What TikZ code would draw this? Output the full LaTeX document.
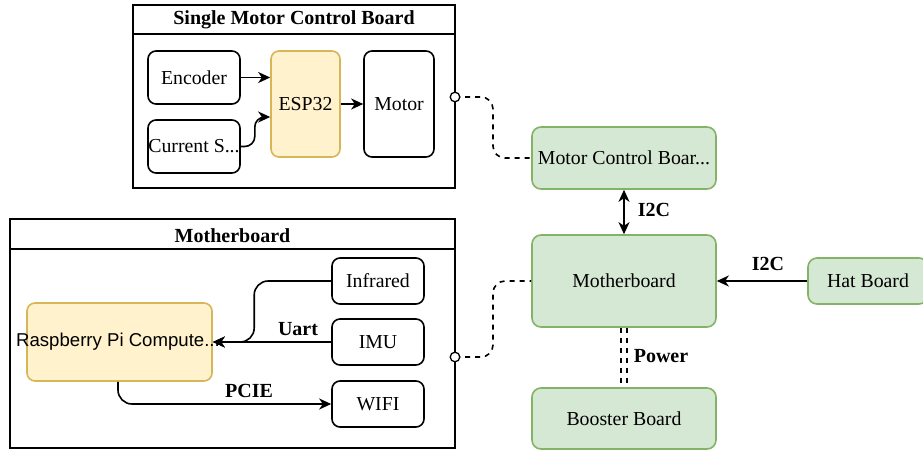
\documentclass[tikz,border=0pt]{standalone}
\usepackage{fontspec}
\setmainfont{Liberation Serif}
\newfontfamily\sansf{Liberation Sans}
\usetikzlibrary{arrows.meta,calc}
\definecolor{gfill}{HTML}{D5E8D4}
\definecolor{gdraw}{HTML}{82B366}
\definecolor{yfill}{HTML}{FFF2CC}
\definecolor{ydraw}{HTML}{D6B656}
\begin{document}
\begin{tikzpicture}[x=0.5pt,y=-0.5pt, line width=0.8pt,
 font=\fontsize{9.9}{11}\selectfont,
 box/.style={draw, rounded corners=4pt, align=center, inner sep=0pt},
 gbox/.style={box, fill=gfill, draw=gdraw, rounded corners=4.5pt},
 ybox/.style={box, fill=yfill, draw=ydraw},
 cont/.style={draw, inner sep=0pt},
 arr/.style={-{Stealth[length=6pt,width=5.5pt,inset=1.8pt]}},
 darr/.style={{Stealth[length=6pt,width=5.5pt,inset=1.8pt]}-{Stealth[length=6pt,width=5.5pt,inset=1.8pt]}},
 dsh/.style={dash pattern=on 2.5pt off 2.5pt},
 port/.style={circle, draw, fill=white, inner sep=0pt, minimum size=4.8pt, line width=0.65pt},
 lbl/.style={font=\fontsize{10}{11}\selectfont\bfseries, inner sep=1pt}
]
\useasboundingbox (0,0) rectangle (923,451);
\clip (0,0) rectangle (923,451);

% Single Motor Control Board container
\node[cont, minimum width=161pt, minimum height=91.5pt] (smcb) at (294,96.5) {};
\coordinate (s1) at (133,34);
\coordinate (s2) at (455,34);
\draw (s1) -- (s2);
\node[lbl] (smcbt) at (294,20) {Single Motor Control Board};
\node[box, minimum width=46pt, minimum height=26.5pt] (enc) at (194,77.5) {Encoder};
\node[box, minimum width=46pt, minimum height=26.5pt] (cur) at (194,146.5) {Current S...};
\node[ybox, minimum width=34.5pt, minimum height=53pt] (esp) at (305.5,104) {ESP32};
\node[box, minimum width=35pt, minimum height=53pt] (motor) at (399,104) {Motor};
\coordinate (p1) at (455,97);

% Motherboard container
\node[cont, minimum width=222.5pt, minimum height=114.5pt] (mbc) at (232.5,333.5) {};
\coordinate (m1) at (10,249);
\coordinate (m2) at (455,249);
\draw (m1) -- (m2);
\node[lbl] (mbct) at (232.5,236) {Motherboard};
\node[box, minimum width=46pt, minimum height=23pt] (inf) at (378,281) {Infrared};
\node[box, minimum width=46pt, minimum height=23pt] (imu) at (378,342) {IMU};
\node[box, minimum width=46pt, minimum height=23pt] (wifi) at (378,404) {WIFI};
\node[ybox, minimum width=92.5pt, minimum height=39pt] (rpi) at (119.5,342) {};
\node[inner sep=0pt, font=\sansf\fontsize{9.3}{11}\selectfont] (rpit) at (118,342) {Raspberry Pi Compute...};
\coordinate (p2) at (455,357);

% Right side boards
\node[gbox, minimum width=92pt, minimum height=31pt] (mcb) at (624,158) {Motor Control Boar...};
\node[gbox, minimum width=92pt, minimum height=46pt] (mb) at (624,281) {Motherboard};
\node[gbox, minimum width=92pt, minimum height=30.5pt] (boost) at (624,418.5) {Booster Board};
\node[gbox, minimum width=60pt, minimum height=23pt] (hat) at (868,281) {Hat Board};

% inner connectors
\draw[arr] (enc.east) -- (esp.west |- enc.east);
\draw[arr, rounded corners=5pt] (cur.east) -- ++(14,0) |- ($(esp.west)+(0,13)$);
\draw[arr] (esp.east) -- (motor.west);
\draw[arr, rounded corners=7pt] (inf.west) -- ++(-77,0) |- (rpi.east);
\draw[arr] (imu.west) -- (rpi.east);
\draw[arr, rounded corners=7pt] ($(rpi.south)+(-1.5,0)$) |- (wifi.west);
\node[lbl] (uart) at (298,329) {Uart};
\node[lbl] (pcie) at (249,391) {PCIE};

% outer connectors
\draw[darr] (mcb.south) -- (mb.north);
\node[lbl] (i2ca) at (654,210) {I2C};
\draw[arr] (hat.west) -- (mb.east);
\node[lbl] (i2cb) at (768,264) {I2C};
\draw[dsh] ($(mb.south)+(-3,0)$) -- ($(boost.north)+(-3,0)$);
\draw[dsh] ($(mb.south)+(3,0)$) -- ($(boost.north)+(3,0)$);
\node[lbl] (pow) at (661,356) {Power};
\draw[dsh, rounded corners=6pt] (p1) -- ++(38,0) |- (mcb.west);
\draw[dsh, rounded corners=6pt] (p2) -- ++(38,0) |- (mb.west);
\node[port] (pc1) at (p1) {};
\node[port] (pc2) at (p2) {};
\end{tikzpicture}
\end{document}
